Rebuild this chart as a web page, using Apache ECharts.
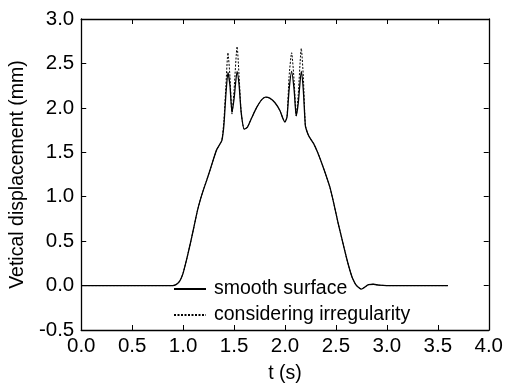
<!DOCTYPE html>
<html>
<head>
<meta charset="utf-8">
<script src="https://cdn.jsdelivr.net/npm/echarts@6/dist/echarts.min.js"></script>
<style>html,body{margin:0;padding:0;background:#fff;}#c{width:506px;height:389px;}</style>
</head>
<body>
<div id="c"></div>
<script>
var times = [0, 0.5, 0.9, 0.93, 0.96, 0.98, 1.0, 1.04, 1.08, 1.11, 1.14, 1.17, 1.2, 1.23, 1.27, 1.30, 1.33, 1.36, 1.38,
  1.40, 1.42, 1.44, 1.46, 1.48, 1.50, 1.53, 1.55, 1.57, 1.60, 1.63, 1.67, 1.72, 1.77, 1.81, 1.85, 1.90, 1.95, 1.98, 2.00,
  2.02, 2.04, 2.065, 2.09, 2.11, 2.13, 2.16, 2.18, 2.20, 2.22, 2.24, 2.28, 2.32, 2.36, 2.40, 2.44, 2.48, 2.52, 2.56, 2.60,
  2.63, 2.66, 2.69, 2.72, 2.75, 2.78, 2.82, 2.87, 2.92, 3.0, 3.6];
var smoothSurface = [0, 0, 0, 0.01, 0.04, 0.08, 0.14, 0.32, 0.52, 0.68, 0.84, 0.97, 1.08, 1.18, 1.32, 1.43, 1.53, 1.59, 1.63,
  1.80, 2.15, 2.40, 2.25, 1.95, 2.10, 2.41, 2.25, 1.95, 1.76, 1.78, 1.88, 2.00, 2.09, 2.12, 2.11, 2.06, 1.97, 1.88, 1.84,
  1.90, 2.20, 2.41, 2.20, 1.91, 2.05, 2.41, 2.20, 1.80, 1.72, 1.67, 1.60, 1.50, 1.38, 1.25, 1.11, 0.92, 0.71, 0.52, 0.33,
  0.20, 0.09, 0.02, -0.02, -0.04, -0.02, 0.01, 0.015, 0.005, 0, 0];
var irregular = [0, 0, 0, 0.01, 0.04, 0.08, 0.14, 0.32, 0.52, 0.68, 0.84, 0.97, 1.08, 1.18, 1.32, 1.43, 1.53, 1.59, 1.63,
  1.85, 2.25, 2.62, 2.35, 1.93, 2.20, 2.69, 2.35, 1.95, 1.76, 1.78, 1.88, 2.00, 2.09, 2.12, 2.11, 2.06, 1.97, 1.88, 1.84,
  1.90, 2.35, 2.62, 2.30, 1.91, 2.15, 2.67, 2.35, 1.80, 1.72, 1.67, 1.60, 1.50, 1.38, 1.25, 1.11, 0.92, 0.71, 0.52, 0.33,
  0.20, 0.09, 0.02, -0.02, -0.04, -0.02, 0.01, 0.015, 0.005, 0, 0];
var seriesNames = ['smooth surface', 'considering irregularity'];
var xTitle = 't (s)';
var yTitle = 'Vetical displacement (mm)';

function pairs(v) { return times.map(function (t, i) { return [t, v[i]]; }); }
var FONT = 'Liberation Sans, Arial, sans-serif';
var axisBase = {
  axisLine: { show: true, onZero: false, lineStyle: { color: '#000', width: 1.3 } },
  axisTick: { show: true, inside: true, length: 5, lineStyle: { color: '#000', width: 1 } },
  splitLine: { show: false }
};
var chart = echarts.init(document.getElementById('c'), null, { renderer: 'canvas' });
chart.setOption({
  animation: false,
  backgroundColor: '#fff',
  grid: { left: 75, right: 15, top: 19, bottom: 58 },
  legend: {
    orient: 'vertical', left: 173, top: 279,
    itemWidth: 32, itemHeight: 18, itemGap: 6, padding: 0,
    itemStyle: { opacity: 0 },
    textStyle: { fontFamily: FONT, fontSize: 19.5, color: '#000', padding: [0, 0, 0, 3] },
    data: seriesNames
  },
  xAxis: [
    Object.assign({}, axisBase, {
      type: 'value', min: 0, max: 4, interval: 0.5, position: 'bottom',
      name: xTitle, nameLocation: 'middle', nameGap: 34,
      nameTextStyle: { fontFamily: FONT, fontSize: 19.5, color: '#000' },
      axisLabel: { fontFamily: FONT, fontSize: 20.5, color: '#000', margin: 6, formatter: function (v) { return v.toFixed(1); } }
    }),
    Object.assign({}, axisBase, {
      type: 'value', min: 0, max: 4, interval: 0.5, position: 'top', axisLabel: { show: false }
    })
  ],
  yAxis: [
    Object.assign({}, axisBase, {
      type: 'value', min: -0.5, max: 3, interval: 0.5, position: 'left',
      name: yTitle, nameLocation: 'middle', nameGap: 49, nameRotate: 90,
      nameTextStyle: { fontFamily: FONT, fontSize: 19.5, color: '#000' },
      axisLabel: { fontFamily: FONT, fontSize: 20.5, color: '#000', margin: 7, formatter: function (v) { return v.toFixed(1); } }
    }),
    Object.assign({}, axisBase, {
      type: 'value', min: -0.5, max: 3, interval: 0.5, position: 'right', axisLabel: { show: false }
    })
  ],
  series: [
    { name: seriesNames[0], type: 'line', data: pairs(smoothSurface), showSymbol: false, symbol: 'none',
      smooth: 0.2, lineStyle: { color: '#000', width: 1.3, type: 'solid' }, itemStyle: { color: '#000' } },
    { name: seriesNames[1], type: 'line', data: pairs(irregular), showSymbol: false, symbol: 'none',
      smooth: 0.2, lineStyle: { color: '#000', width: 1, type: [2, 1.5] }, itemStyle: { color: '#000' } }
  ]
});
</script>
</body>
</html>
